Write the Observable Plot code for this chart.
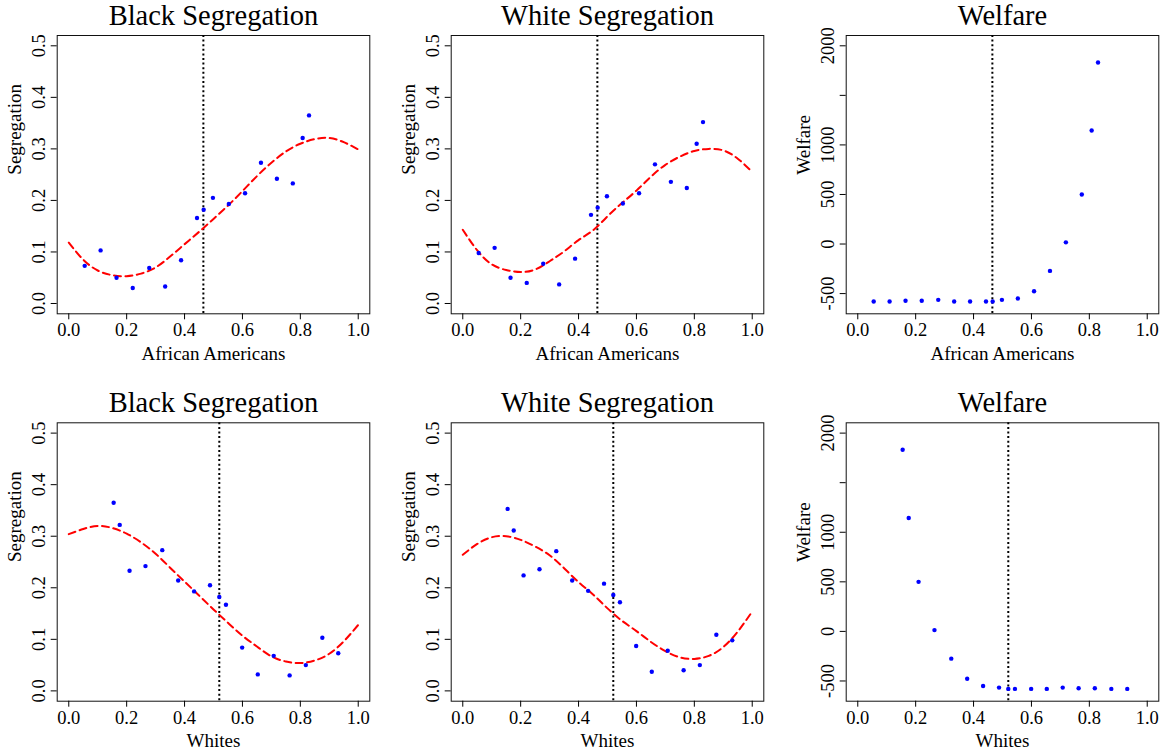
<!DOCTYPE html>
<html>
<head>
<meta charset="utf-8">
<script src="https://cdn.jsdelivr.net/npm/d3@7"></script>
<script src="https://cdn.jsdelivr.net/npm/@observablehq/plot@0.6"></script>
<style>
  html, body { margin: 0; padding: 0; background: #fff; overflow: hidden; }
  #chart { position: relative; width: 1164px; height: 752px; }
  #chart > div { position: absolute; }
  #chart svg text { font-family: 'Liberation Serif', 'Times New Roman', serif; }
</style>
</head>
<body>
<div id="chart"></div>
<script>
// ---- data ----
const titles = ["Black Segregation", "White Segregation", "Welfare"];
const xLabels = ["African Americans", "Whites"];
const yLabels = ["Segregation", "Segregation", "Welfare"];

const xTicks = [0, 0.2, 0.4, 0.6, 0.8, 1.0];
const segTicks = [0, 0.1, 0.2, 0.3, 0.4, 0.5];
const welfareTicks = [-500, 0, 500, 1000, 1500, 2000];

// share of group (x positions of the points)
const xAfrican = [0.055, 0.110, 0.165, 0.221, 0.278, 0.333, 0.388, 0.443, 0.466, 0.498, 0.553, 0.609, 0.664, 0.719, 0.774, 0.808, 0.830];
const xWhites  = [0.155, 0.176, 0.210, 0.265, 0.323, 0.378, 0.433, 0.488, 0.520, 0.543, 0.599, 0.653, 0.708, 0.763, 0.819, 0.876, 0.931];

// vertical dotted reference lines
const cutAfrican = 0.465;
const cutWhites = 0.520;

// top row (African Americans)
const blackSegTop = [0.073, 0.103, 0.050, 0.030, 0.069, 0.033, 0.084, 0.166, 0.182, 0.205, 0.193, 0.214, 0.273, 0.242, 0.233, 0.321, 0.365];
const whiteSegTop = [0.098, 0.108, 0.050, 0.040, 0.077, 0.037, 0.087, 0.172, 0.186, 0.208, 0.194, 0.214, 0.270, 0.236, 0.224, 0.310, 0.352];
const welfareTop  = [-580, -580, -573, -573, -563, -580, -580, -580, -580, -563, -549, -476, -271, 17, 499, 1146, 1832];

// bottom row (Whites)
const blackSegBottom = [0.365, 0.322, 0.233, 0.242, 0.273, 0.214, 0.193, 0.205, 0.182, 0.167, 0.084, 0.032, 0.068, 0.030, 0.050, 0.103, 0.073];
const whiteSegBottom = [0.353, 0.311, 0.224, 0.236, 0.271, 0.214, 0.194, 0.208, 0.186, 0.172, 0.087, 0.037, 0.078, 0.040, 0.050, 0.109, 0.098];
const welfareBottom  = [1832, 1144, 500, 13, -275, -477, -550, -567, -580, -580, -580, -580, -567, -574, -574, -580, -580];

// fitted (dashed) curves, read at these x values
const fitX = [0, 0.05, 0.10, 0.15, 0.20, 0.25, 0.30, 0.35, 0.40, 0.45, 0.50, 0.55, 0.60, 0.65, 0.70, 0.75, 0.80, 0.85, 0.90, 0.95, 1.00];
const fitBlackTop    = [0.118, 0.085, 0.064, 0.055, 0.053, 0.058, 0.070, 0.091, 0.115, 0.139, 0.164, 0.190, 0.218, 0.247, 0.273, 0.295, 0.310, 0.319, 0.321, 0.313, 0.299];
const fitWhiteTop    = [0.143, 0.103, 0.076, 0.065, 0.061, 0.066, 0.082, 0.101, 0.123, 0.142, 0.169, 0.195, 0.219, 0.246, 0.269, 0.285, 0.296, 0.300, 0.297, 0.281, 0.255];
const fitBlackBottom = [0.304, 0.314, 0.320, 0.316, 0.305, 0.288, 0.266, 0.239, 0.212, 0.185, 0.158, 0.132, 0.107, 0.086, 0.067, 0.057, 0.054, 0.059, 0.072, 0.096, 0.128];
const fitWhiteBottom = [0.264, 0.285, 0.298, 0.300, 0.293, 0.280, 0.263, 0.238, 0.211, 0.187, 0.160, 0.136, 0.116, 0.095, 0.077, 0.065, 0.062, 0.068, 0.085, 0.115, 0.154];

// ---- layout ----
const FONT = "'Liberation Serif', 'Times New Roman', serif";
const colLeft = [0, 388, 776];
const colMargins = [[56.7, 18.7], [62.7, 12.7], [69.7, 5.7]];
const rowTop = [0, 376];
const rowMargins = [[35, 62.7], [46.3, 51.3]];

function panel(row, col, xs, ys, fx, fy, cut) {
  const welfare = col === 2;
  const pts = xs.map((x, i) => ({x, y: ys[i]}));
  const marks = [
    Plot.frame({stroke: "#111", strokeWidth: 1}),
    Plot.ruleX([cut], {stroke: "#000", strokeWidth: 2, strokeDasharray: "2,2.6"})
  ];
  if (fy) {
    const fit = fx.map((x, i) => ({x, y: fy[i]}));
    marks.push(Plot.line(fit, {x: "x", y: "y", stroke: "#ff0000", strokeWidth: 2, strokeDasharray: "7,4.5", curve: "natural"}));
  }
  marks.push(
    Plot.dot(pts, {x: "x", y: "y", r: 2.2, fill: "#0000ff", stroke: "none"}),
    Plot.axisX({ticks: xTicks, tickSize: 6, tickPadding: 3.5, tickFormat: d3.format(".1f"), fontSize: 18.5, fontFamily: FONT, label: null}),
    Plot.axisY({
      ticks: welfare ? welfareTicks : segTicks,
      tickSize: 6, tickPadding: 6, tickRotate: -90, fontSize: 18.5, fontFamily: FONT, label: null,
      tickFormat: welfare ? (d => d === 1500 ? "" : String(d)) : d3.format(".1f")
    }),
    Plot.text([titles[col]], {text: d => d, frameAnchor: "top", dy: -11, lineAnchor: "bottom", fontSize: 28.5, fontFamily: FONT}),
    Plot.text([xLabels[row]], {text: d => d, frameAnchor: "bottom", dy: 45.7, lineAnchor: "bottom", fontSize: 19, fontFamily: FONT}),
    Plot.text([yLabels[col]], {text: d => d, frameAnchor: "left", dx: -36, rotate: -90, lineAnchor: "bottom", fontSize: 19, fontFamily: FONT})
  );
  const svg = Plot.plot({
    width: 388,
    height: 376,
    marginLeft: colMargins[col][0],
    marginRight: colMargins[col][1],
    marginTop: rowMargins[row][0],
    marginBottom: rowMargins[row][1],
    x: {domain: [-0.04, 1.04]},
    y: {domain: welfare ? [-704, 2104] : [-0.02, 0.52]},
    style: {fontFamily: FONT, background: "transparent", color: "#000"},
    marks
  });
  const holder = document.createElement("div");
  holder.style.left = colLeft[col] + "px";
  holder.style.top = rowTop[row] + "px";
  holder.appendChild(svg);
  document.getElementById("chart").appendChild(holder);
}

panel(0, 0, xAfrican, blackSegTop, fitX, fitBlackTop, cutAfrican);
panel(0, 1, xAfrican, whiteSegTop, fitX, fitWhiteTop, cutAfrican);
panel(0, 2, xAfrican, welfareTop, null, null, cutAfrican);
panel(1, 0, xWhites, blackSegBottom, fitX, fitBlackBottom, cutWhites);
panel(1, 1, xWhites, whiteSegBottom, fitX, fitWhiteBottom, cutWhites);
panel(1, 2, xWhites, welfareBottom, null, null, cutWhites);
</script>
</body>
</html>
